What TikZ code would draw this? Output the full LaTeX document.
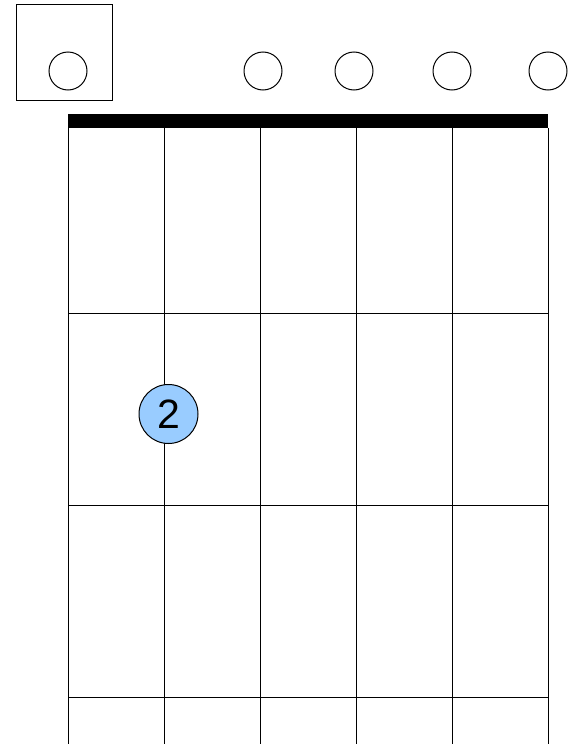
\documentclass[tikz,border=0pt]{standalone}
\usepackage{fontspec}
\setmainfont{Liberation Sans}
\usepackage{tikz}
\usetikzlibrary{positioning}
\definecolor{azuldedo}{RGB}{153,204,255}

\begin{document}
\begin{tikzpicture}[
  x=1pt,y=-1pt,
  cuerda/.style={line width=1pt,draw=black},
  traste/.style={line width=1pt,draw=black},
  abierta/.style={circle,draw,line width=1pt,minimum size=38pt,inner sep=0pt},
  dedo/.style={circle,draw,line width=1pt,fill=azuldedo,minimum size=59pt,inner sep=0pt,
               font=\fontsize{41}{41}\selectfont}
]
\useasboundingbox (0,0) rectangle (581,744);

% cejilla
\fill[black] (68,114) rectangle (548,128);

% cuerdas
\draw[cuerda] (68,128) -- (68,744);
\draw[cuerda] (164,128) -- (164,744);
\draw[cuerda] (260,128) -- (260,744);
\draw[cuerda] (356,128) -- (356,744);
\draw[cuerda] (452,128) -- (452,744);
\draw[cuerda] (548,128) -- (548,744);

% trastes
\draw[traste] (68,313) -- (548,313);
\draw[traste] (68,505) -- (548,505);
\draw[traste] (68,697) -- (548,697);

% marcas de cuerdas al aire
\draw[line width=1pt] (16,4) rectangle (112,100);
\node[abierta] (raiz) at (68,71) {};
\node[abierta] (c3) at (263,71) {};
\node[abierta] (c4) at (354,71) {};
\node[abierta] (c5) at (452,71) {};
\node[abierta] (c6) at (548,71) {};

% dedo
\node[dedo] (d2) at (168.5,414) {2};
\end{tikzpicture}
\end{document}
